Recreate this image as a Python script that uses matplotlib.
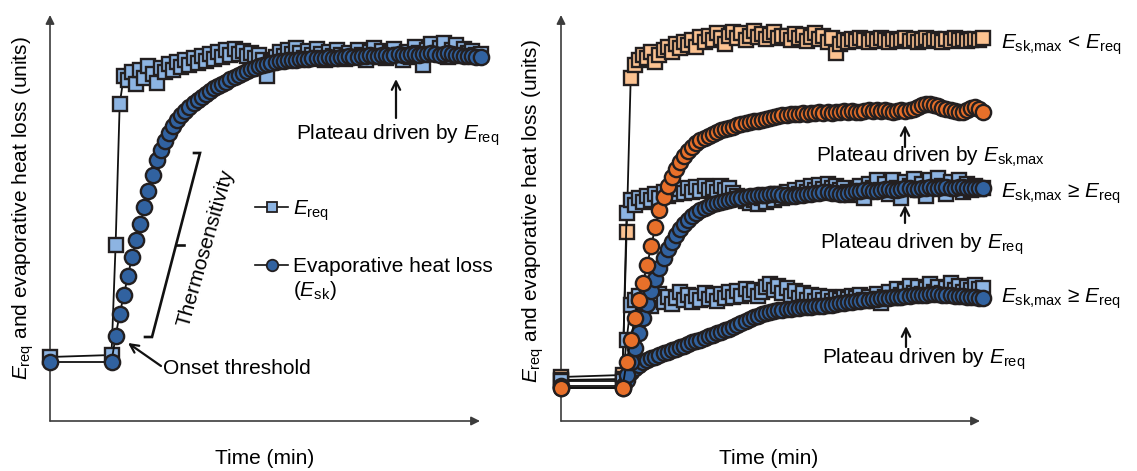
import numpy as np
import matplotlib
matplotlib.use('Agg')
import matplotlib.pyplot as plt

plt.rcParams['font.family'] = ['Liberation Sans', 'DejaVu Sans']
plt.rcParams['mathtext.fontset'] = 'custom'
plt.rcParams['mathtext.rm'] = 'Liberation Sans'
plt.rcParams['mathtext.it'] = 'Liberation Sans:italic'
plt.rcParams['mathtext.bf'] = 'Liberation Sans:bold'
plt.rcParams['mathtext.fallback'] = 'cm'

# ---------------- data (arbitrary units, time in sample steps) ----------------
onset_time = 15          # time of the onset sample (pre-phase starts at 0)

# Left panel
left_ereq_pre = 64
left_ereq = [66, 176, 317,
             345, 341, 349, 337, 351, 343, 355, 347, 338, 353,
             349, 357, 351, 359, 354, 361, 356, 363, 358, 365,
             360, 367, 362, 369, 364, 371, 366, 372, 367, 370,
             365, 368, 363, 366, 361, 345, 359, 364, 369, 365,
             371, 367, 373, 368, 363, 370, 366, 372, 367, 361,
             369, 365, 371, 366, 362, 368, 364, 371, 366, 361,
             369, 373, 365, 370, 363, 368, 372, 366, 361, 369,
             364, 374, 368, 356, 371, 377, 367, 373, 378, 364,
             371, 376, 366, 372, 368, 370, 366, 367]
left_esk_pre = 59
left_esk = [59, 85, 107, 126, 145, 164, 181, 197, 214, 230,
            246, 261, 271, 280, 288, 295, 301, 306, 310, 314,
            318, 321, 324, 327, 330, 333, 335, 337, 339, 342,
            344, 346, 348, 350, 352, 353, 355, 356, 357, 358,
            359, 360, 360, 361, 361,
            361, 362, 362, 362, 363, 363, 363, 363, 364, 363,
            363, 364, 364, 365, 364, 364, 365, 365, 366, 365,
            365, 366, 366, 365, 366, 367, 366, 366, 367, 367,
            366, 367, 367, 368, 367, 366, 367, 368, 367, 366,
            366, 365, 365, 365, 364, 364]

# Right panel
hi_ereq_pre = 44     # E_sk,max < E_req  (peach squares)
hi_ereq = [46, 189, 343,
           356, 361, 366, 363, 369, 359, 366, 371, 374, 369,
           377, 373, 379, 376, 381, 374, 384, 379, 385, 381,
           388, 383, 377, 385, 389, 383, 388, 381, 385, 390,
           384, 387, 382, 386, 389, 383, 385,
           385, 381, 387, 383, 386, 380, 384, 388, 382, 385,
           379, 383, 368, 377, 381, 379, 382, 380, 383, 381,
           379, 382, 380, 383, 381, 379, 382, 380, 381, 383,
           380, 382, 379, 381, 383, 380, 382, 381, 379, 382,
           380, 383, 381, 382, 380, 381, 382, 381, 383]
hi_esk_pre = 33      # plateau driven by E_sk,max (orange circles)
hi_esk = [33, 59, 81, 103, 121, 138, 156, 175, 194, 211,
          224, 235, 244, 252, 259, 265, 270, 274, 278, 281,
          283, 285, 287, 289, 291, 292, 293, 294, 296, 297,
          298, 299, 300, 300, 301, 302, 303, 304, 305, 306,
          306, 307, 307, 307, 308, 307, 308, 308, 309, 308,
          309, 308, 309, 309, 310, 309, 310, 309, 309, 310,
          311, 310, 311, 310, 311, 310, 309, 310, 311, 310,
          311, 312, 314, 316, 317, 317, 316, 315, 313, 312,
          311, 310, 309, 309, 311, 313, 314, 312, 309]
mid_ereq_pre = 41    # E_sk,max >= E_req (upper light-blue squares)
mid_ereq = [42, 208,
            221, 216, 223, 219, 225, 221, 227, 223, 229, 225,
            231, 227, 232, 228, 233, 229, 234, 230, 235, 231,
            233, 229, 235, 231, 233, 228, 225, 222, 220, 218,
            221, 217, 223, 219, 225, 221, 227, 223, 229, 225,
            231, 227, 233, 229, 235, 231, 236, 232, 237, 233,
            235, 231, 233, 229, 226, 231, 235, 223, 237, 233,
            241, 231, 237, 227, 241, 233, 223, 239, 235, 242,
            231, 237, 225, 241, 233, 243, 235, 227, 239, 233,
            241, 229, 237, 231, 235, 232, 233]
mid_esk_pre = 35
mid_esk = [35, 46, 59, 73, 88, 103, 117, 130, 142, 153,
           163, 172, 179, 186, 192, 197, 201, 205, 208, 211,
           213, 215, 217, 218, 219, 220, 221, 222, 223, 223,
           224, 225, 225, 226, 226, 226, 227, 227, 227, 226,
           226, 225, 225, 226, 226, 227, 227, 228, 228, 229,
           229, 228, 228, 227, 227, 228, 229, 230, 230, 231,
           231, 230, 230, 231, 232, 232, 231, 231, 232, 233,
           233, 232, 232, 233, 233, 234, 233, 233, 234, 234,
           233, 233, 234, 234, 233, 233, 233, 233, 233]
lo_ereq_pre = 40     # E_sk,max >= E_req (lower light-blue squares)
lo_ereq = [40, 81, 116, 121, 125, 118, 123, 115, 121, 127,
           119, 124, 117, 123, 129, 121, 126, 119, 125, 121,
           128, 122, 126, 120, 127, 123, 129, 124, 130, 125,
           132, 127, 131, 125, 129, 134, 137, 131, 135, 128,
           133, 125, 130, 123, 128, 121, 126, 120, 125, 121,
           124, 120, 123, 121, 124, 122, 125, 123, 126, 121,
           124, 120, 127, 118, 124, 129, 123, 132, 126, 130,
           135, 128, 134, 127, 132, 137, 129, 134, 128, 133,
           138, 131, 135, 129, 134, 131, 136, 132, 133]
lo_esk_pre = 33
lo_esk = [33, 41, 49, 53, 56, 59, 61, 63, 64, 66,
          68, 69, 71, 72, 74, 75, 77, 79, 80, 81,
          83, 85, 86, 88, 89, 91, 92, 94, 96, 98,
          100, 102, 104, 105, 107, 108, 109, 110, 111, 111,
          112, 112, 113, 113, 114, 114, 114, 115, 115, 115,
          116, 116, 117, 118, 118, 119, 119, 120, 120, 121,
          121, 122, 122, 123, 123, 123, 124, 124, 124, 125,
          125, 126, 126, 126, 126, 127, 127, 127, 126, 126,
          126, 125, 125, 125, 124, 124, 124, 123, 123]

# ---------------- styling ----------------
W, H = 1137, 471
LIGHT_BLUE = '#8db4e2'
DARK_BLUE = '#3162a0'
PEACH = '#fbc291'
ORANGE = '#e8702a'
EDGE = '#231f20'
AXIS = '#3c3c3c'
FS = 15

fig = plt.figure(figsize=(W / 100, H / 100), dpi=100)

STEP = 4.1  # pixels per time step
def make_ax(left_px):
    ax = fig.add_axes([left_px / W, 50 / H, 440 / W, 406 / H])
    ax.set_xlim(0, 440 / STEP)
    ax.set_ylim(0, 406)
    ax.axis('off')
    return ax

def draw_axes_arrows(ax, xend_frac):
    kw = dict(arrowstyle='-|>', color=AXIS, lw=1.2, mutation_scale=13,
              shrinkA=0, shrinkB=0)
    ax.annotate('', xy=(0, 1.0), xytext=(0, 0), xycoords='axes fraction',
                arrowprops=kw, annotation_clip=False, zorder=1)
    ax.annotate('', xy=(xend_frac, 0), xytext=(0, 0), xycoords='axes fraction',
                arrowprops=kw, annotation_clip=False, zorder=1)

def series(ax, pre, resp, marker, color, ms, z):
    t = np.concatenate([[0], onset_time + np.arange(len(resp))])
    y = np.concatenate([[pre], resp])
    ax.plot(t, y, '-', color='#111111', lw=1.3, marker=marker, ms=ms,
            mfc=color, mec=EDGE, mew=1.7, zorder=z, clip_on=False)

SQ, CI = 9.8, 11.0

axL = make_ax(50)
draw_axes_arrows(axL, (480 - 50) / 440)
series(axL, left_ereq_pre, left_ereq, 's', LIGHT_BLUE, SQ, 3)
series(axL, left_esk_pre, left_esk, 'o', DARK_BLUE, CI, 4)

axR = make_ax(561)
draw_axes_arrows(axR, (980 - 561) / 440)
series(axR, hi_ereq_pre, hi_ereq, 's', PEACH, SQ, 2)
series(axR, mid_ereq_pre, mid_ereq, 's', LIGHT_BLUE, SQ, 3)
series(axR, lo_ereq_pre, lo_ereq, 's', LIGHT_BLUE, SQ, 3)
series(axR, lo_esk_pre, lo_esk, 'o', DARK_BLUE, CI, 4)
series(axR, mid_esk_pre, mid_esk, 'o', DARK_BLUE, CI, 4)
series(axR, hi_esk_pre, hi_esk, 'o', ORANGE, CI, 5)

# ---------------- overlay for annotations (pixel coordinates) ----------------
ov = fig.add_axes([0, 0, 1, 1])
ov.set_xlim(0, W)
ov.set_ylim(H, 0)
ov.axis('off')

ylab = r'$E_{\mathrm{req}}$ and evaporative heat loss (units)'
ov.text(23, 208, ylab, rotation=90, ha='center', va='center', fontsize=FS)
ov.text(533, 211, ylab, rotation=90, ha='center', va='center', fontsize=FS)
ov.text(265, 459, 'Time (min)', ha='center', va='center', fontsize=FS)
ov.text(769, 459, 'Time (min)', ha='center', va='center', fontsize=FS)

akw = dict(arrowstyle='->', color='#111111', lw=1.6, mutation_scale=15,
           shrinkA=0, shrinkB=0)

ESKMAX = r'$E_{\mathrm{sk{,}max}}$'
EREQ = r'$E_{\mathrm{req}}$'

# Left panel annotations
ov.text(296, 140, 'Plateau driven by ' + EREQ, ha='left', va='baseline', fontsize=FS)
ov.annotate('', xy=(396, 79), xytext=(396, 118), arrowprops=akw)

ov.text(163, 374, 'Onset threshold', ha='left', va='baseline', fontsize=FS)
ov.annotate('', xy=(128, 343), xytext=(161, 366), arrowprops=akw)

# bracket
ov.plot([145, 152, 200, 194], [337, 337, 153, 153], color='#111111', lw=1.9,
        solid_joinstyle='miter')
ov.plot([176, 184], [245, 245], color='#111111', lw=1.9)
ov.text(206, 248, 'Thermosensitivity', rotation=74, ha='center', va='center',
        rotation_mode='anchor', fontsize=FS)

# legend
ov.plot([255, 288], [207, 207], color='#111111', lw=1.2)
ov.plot([272], [207], marker='s', ms=7.8, mfc=LIGHT_BLUE, mec=EDGE, mew=1.3)
ov.text(293, 215, EREQ, ha='left', va='baseline', fontsize=FS)
ov.plot([255, 288], [265, 265], color='#111111', lw=1.2)
ov.plot([272], [265], marker='o', ms=8.3, mfc=DARK_BLUE, mec=EDGE, mew=1.3)
ov.text(293, 272, 'Evaporative heat loss', ha='left', va='baseline', fontsize=FS)
ov.text(293, 296, r'($E_{\mathrm{sk}}$)', ha='left', va='baseline', fontsize=FS)

# Right panel annotations
ov.text(1001, 49, ESKMAX + ' < ' + EREQ, ha='left', va='baseline', fontsize=FS)
ov.text(1001, 198, ESKMAX + ' ≥ ' + EREQ, ha='left', va='baseline', fontsize=FS)
ov.text(1001, 303, ESKMAX + ' ≥ ' + EREQ, ha='left', va='baseline', fontsize=FS)

ov.text(816, 162, 'Plateau driven by ' + ESKMAX, ha='left', va='baseline', fontsize=FS)
ov.annotate('', xy=(905, 125), xytext=(905, 147), arrowprops=akw)
ov.text(820, 249, 'Plateau driven by ' + EREQ, ha='left', va='baseline', fontsize=FS)
ov.annotate('', xy=(905, 205), xytext=(905, 223), arrowprops=akw)
ov.text(822, 364, 'Plateau driven by ' + EREQ, ha='left', va='baseline', fontsize=FS)
ov.annotate('', xy=(906, 326), xytext=(906, 347), arrowprops=akw)

fig.savefig('out.png', dpi=100)
